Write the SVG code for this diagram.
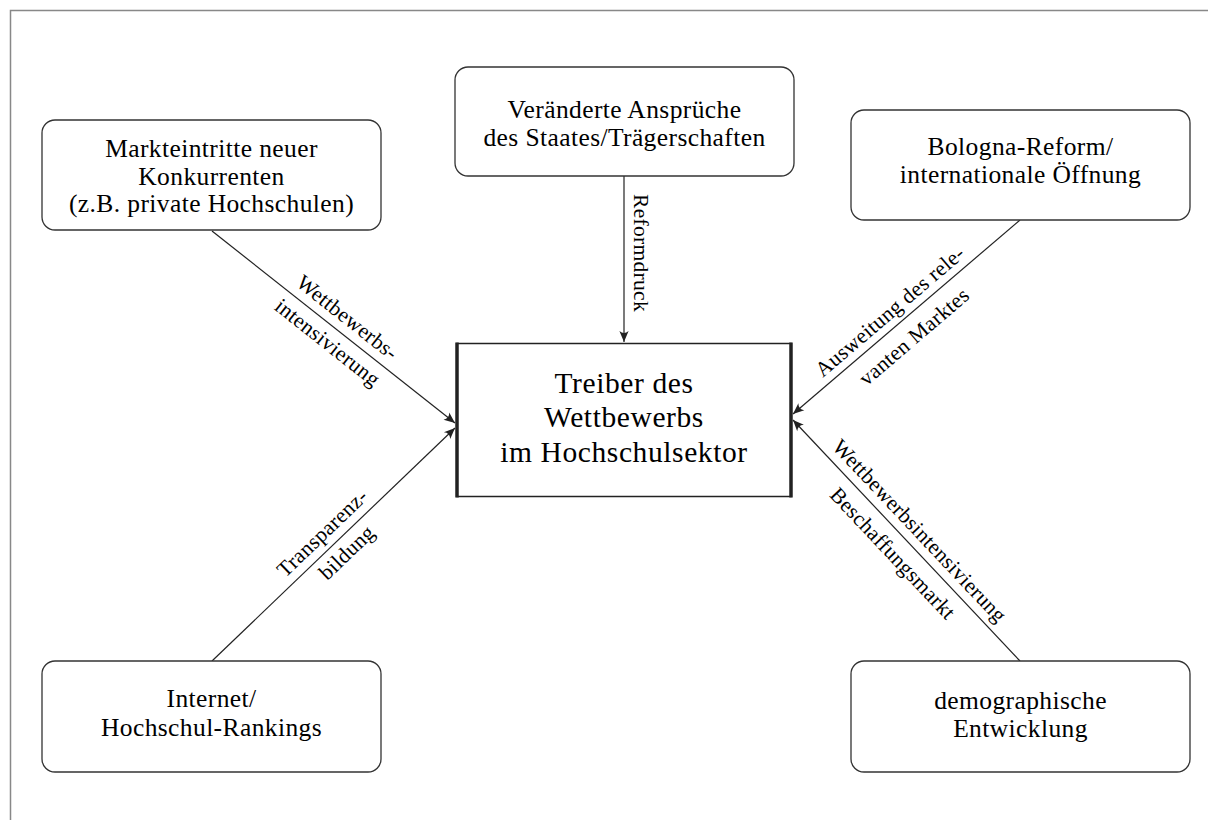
<svg xmlns="http://www.w3.org/2000/svg" width="1208" height="820" viewBox="0 0 1208 820">
<defs>
<marker id="arr" markerUnits="userSpaceOnUse" markerWidth="14" markerHeight="12" viewBox="-12 -6 14 12" refX="0" refY="0" orient="auto">
<path d="M0,0 L-11,-4.6 Q-7,0 -11,4.6 Z" fill="#222"/>
</marker>
<style>
.frame{fill:none;stroke:#888;stroke-width:1.5}
.node{fill:#fff;stroke:#333;stroke-width:1.3}
.t{font-family:"Liberation Serif","Times New Roman",serif;font-size:25.5px;letter-spacing:0.4px;fill:#000;text-anchor:middle}
.tc{font-family:"Liberation Serif","Times New Roman",serif;font-size:29.5px;letter-spacing:0.6px;fill:#000;text-anchor:middle}
.lbl{font-family:"Liberation Serif","Times New Roman",serif;font-size:21.5px;letter-spacing:0.3px;fill:#000;text-anchor:middle}
.conn{stroke:#222;stroke-width:1.2;fill:none;marker-end:url(#arr)}
</style>
</defs>
<rect width="1208" height="820" fill="#fff"/>
<path class="frame" d="M10.5,820 L10.5,10.5 L1208,10.5"/>

<g id="connectors">
<line class="conn" x1="212" y1="231" x2="455" y2="423"/>
<line class="conn" x1="212" y1="661" x2="455" y2="428"/>
<line class="conn" x1="624" y1="176" x2="624" y2="342"/>
<line class="conn" x1="1020" y1="220" x2="793" y2="414"/>
<line class="conn" x1="1020" y1="661" x2="793" y2="420"/>
<g transform="translate(333.5,327) rotate(38.3)">
<text class="lbl" x="5" y="-9">Wettbewerbs-</text>
<text class="lbl" x="5" y="23">intensivierung</text>
</g>
<g transform="translate(333.5,544.5) rotate(-43.8)">
<text class="lbl" x="0" y="-9">Transparenz-</text>
<text class="lbl" x="4" y="22">bildung</text>
</g>
<g transform="translate(624,253) rotate(90)">
<text class="lbl" x="0" y="-10">Reformdruck</text>
</g>
<g transform="translate(906.5,317) rotate(-40.5)">
<text class="lbl" x="-9" y="-8">Ausweitung des rele-</text>
<text class="lbl" x="-7" y="27">vanten Marktes</text>
</g>
<g transform="translate(906.5,540.5) rotate(46.7)">
<text class="lbl" x="2" y="-9">Wettbewerbsintensivierung</text>
<text class="lbl" x="0" y="26">Beschaffungsmarkt</text>
</g>
</g>

<g id="center">
<rect x="457" y="343.5" width="334" height="153" fill="#fff" stroke="#222" stroke-width="1.5"/>
<line x1="457" y1="342.5" x2="457" y2="497.5" stroke="#222" stroke-width="3.5"/>
<line x1="791" y1="342.5" x2="791" y2="497.5" stroke="#222" stroke-width="3.5"/>
<text class="tc" x="624" y="393">Treiber des</text>
<text class="tc" x="624" y="427">Wettbewerbs</text>
<text class="tc" x="624" y="462">im Hochschulsektor</text>
</g>

<g id="n-markteintritte">
<rect class="node" x="42" y="120" width="339" height="110" rx="13"/>
<text class="t" x="211.5" y="157">Markteintritte neuer</text>
<text class="t" x="211.5" y="184.5">Konkurrenten</text>
<text class="t" x="211.5" y="212">(z.B. private Hochschulen)</text>
</g>

<g id="n-staat">
<rect class="node" x="455" y="67" width="339" height="109" rx="13"/>
<text class="t" x="624.5" y="118">Veränderte Ansprüche</text>
<text class="t" x="624.5" y="145.5">des Staates/Trägerschaften</text>
</g>

<g id="n-bologna">
<rect class="node" x="851" y="110" width="339" height="110" rx="13"/>
<text class="t" x="1020.5" y="155">Bologna-Reform/</text>
<text class="t" x="1020.5" y="182.5">internationale Öffnung</text>
</g>

<g id="n-internet">
<rect class="node" x="42" y="661" width="339" height="111" rx="13"/>
<text class="t" x="211.5" y="707">Internet/</text>
<text class="t" x="211.5" y="736">Hochschul-Rankings</text>
</g>

<g id="n-demografie">
<rect class="node" x="851" y="661" width="339" height="111" rx="13"/>
<text class="t" x="1020.5" y="709">demographische</text>
<text class="t" x="1020.5" y="737">Entwicklung</text>
</g>
</svg>
